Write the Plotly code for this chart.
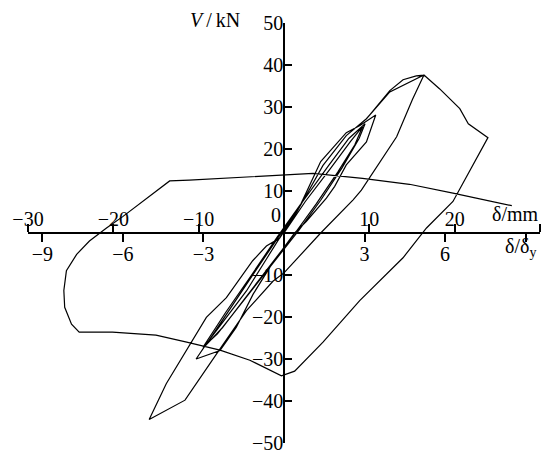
import plotly.graph_objects as go

# Displacement (mm) and shear force (kN) of the recorded loading history
# Cycle 1: small elastic cycle
cycle1_d = [0.0, 2.5, 5.5, 7.8, 9.2, 8.3, 6.3, 3.8, 1.3, -1.5, -4.5, -7.2, -9.2,
            -6.5, -3.5, -0.5]
cycle1_v = [0.0, 7.5, 15.5, 21.8, 25.3, 21.0, 14.5, 7.0, 0.0, -7.5, -15.5, -22.5, -26.8,
            -18.5, -9.5, -0.5]
# Cycle 2: repeat at the same level
cycle2_d = [2.2, 5.2, 7.6, 9.5, 8.8, 6.8, 4.3, 1.8, -2.0, -5.0, -7.8, -9.5,
            -6.8, -3.8, -0.8]
cycle2_v = [7.5, 16.0, 22.5, 26.0, 22.5, 15.5, 7.8, 0.8, -9.0, -17.0, -24.0, -27.2,
            -18.8, -10.0, -1.0]
# Cycle 3: medium amplitude
cycle3_d = [2.0, 4.3, 7.3, 8.9, 10.75, 9.66, 7.3, 5.94, 4.97, 2.63, 1.25, -1.3, -3.6,
            -5.6, -7.5, -10.3, -9.1, -6.75, -4.4, -2.0, 0.0]
cycle3_v = [7.0, 17.0, 23.9, 25.6, 28.1, 21.7, 16.2, 11.1, 8.3, 2.8, 0.0, -7.0, -14.5,
            -22.5, -28.0, -30.0, -26.4, -20.0, -13.8, -6.0, 0.5]
# Cycle 4: first excursion to peak load and first large negative excursion
cycle4_d = [1.5, 4.57, 7.3, 9.66, 12.4, 13.95, 15.5, 16.4, 15.05, 13.2, 9.07, 8.1,
            4.3, 0.0, -1.3, -4.4, -7.9, -11.6, -15.8]
cycle4_v = [5.0, 16.1, 23.2, 27.2, 33.9, 36.5, 37.4, 37.6, 31.8, 22.9, 10.2, 7.9,
            0.0, -9.5, -11.5, -18.5, -28.8, -39.8, -44.4]
# Cycle 5: reloading past peak, softening, and the final reversed branch
cycle5_d = [-13.8, -9.1, -6.75, -3.67, -2.06, -0.5, 1.5, 4.57, 7.3, 9.66, 12.4, 16.4,
            18.25, 20.6, 21.6, 23.9, 19.8, 16.7, 13.95, 8.87, 4.57, 1.25, -0.3,
            -4.0, -7.5, -11.4, -15.0, -20.1, -24.0, -24.9, -25.7, -25.8, -25.5,
            -24.3, -22.8, -20.8, -18.9, -13.4, -11.1, 1.8, 3.4, 9.2, 14.7, 19.8,
            25.3, 26.7]
cycle5_v = [-35.9, -20.1, -15.4, -6.6, -3.1, -1.2, 5.0, 16.1, 23.2, 27.2, 33.6, 37.6,
            34.3, 29.6, 26.0, 22.7, 7.5, 1.2, -5.9, -16.1, -26.0, -32.9, -34.0,
            -30.3, -27.9, -26.0, -24.3, -23.6, -23.6, -21.7, -17.7, -13.7, -9.0,
            -5.1, -1.9, 1.2, 3.9, 12.4, 12.6, 14.0, 14.2, 13.0, 11.6, 9.5,
            7.1, 6.5]

# Yield displacement used for the ductility scale (mm)
delta_y = 3.145

mm_ticks = [-30, -20, -10, 10, 20, 30]
mm_labels = ["−30", "−20", "−10", "10", "20", ""]
mu_ticks = [-9, -6, -3, 3, 6, 9]
mu_labels = ["−9", "−6", "−3", "3", "6", ""]
kn_ticks = [-50, -40, -30, -20, -10, 10, 20, 30, 40, 50]
kn_labels = ["−50", "−40", "−30", "−20", "−10", "10", "20", "30", "40", "50"]

disp = cycle1_d + cycle2_d + cycle3_d + cycle4_d + cycle5_d
force = cycle1_v + cycle2_v + cycle3_v + cycle4_v + cycle5_v

FONT = "Liberation Serif, Times New Roman, serif"
FS = 20

fig = go.Figure()
fig.add_trace(go.Scatter(x=disp, y=force, mode="lines",
                         line=dict(color="black", width=1.2),
                         showlegend=False, hoverinfo="skip"))
# invisible trace to activate the ductility axis
fig.add_trace(go.Scatter(x=[0], y=[0], xaxis="x2", mode="markers",
                         marker=dict(opacity=0), showlegend=False,
                         hoverinfo="skip"))

fig.update_layout(
    width=543, height=457,
    margin=dict(l=28, r=3, t=23, b=10),
    plot_bgcolor="white", paper_bgcolor="white",
    font=dict(family=FONT, size=FS, color="black"),
    xaxis=dict(range=[-30, 30], anchor="free", position=0.5, side="top",
               showline=True, linecolor="black", linewidth=1.5,
               ticks="outside", ticklen=8, tickwidth=1.5, tickcolor="black",
               tickvals=mm_ticks, ticktext=mm_labels, ticklabelstandoff=-10,
               ticklabeloverflow="allow",
               showgrid=False, zeroline=False, fixedrange=True),
    xaxis2=dict(range=[-30 / delta_y, 30 / delta_y], overlaying="x",
                anchor="free", position=0.5, side="bottom",
                showline=False, ticks="outside", ticklen=8, tickwidth=1.5,
                tickcolor="black", tickvals=mu_ticks, ticktext=mu_labels,
                ticklabelstandoff=-5, ticklabeloverflow="allow",
                showgrid=False, zeroline=False, fixedrange=True),
    yaxis=dict(range=[-50, 50], anchor="free", position=0.5, side="left",
               showline=True, linecolor="black", linewidth=1.5,
               ticks="inside", ticklen=7, tickwidth=1.5, tickcolor="black",
               tickvals=kn_ticks, ticktext=kn_labels, ticklabelstandoff=-4,
               ticklabeloverflow="allow",
               showgrid=False, zeroline=False, fixedrange=True),
)

ann_font = dict(family=FONT, size=FS, color="black")
fig.add_annotation(x=0.4838, y=0.543, xref="paper", yref="paper", text="0",
                   showarrow=False, font=ann_font)
fig.add_annotation(x=0.418, y=1.007, xref="paper", yref="paper",
                   text="<i>V</i>\u2009/\u2009kN", xanchor="right", yanchor="middle",
                   showarrow=False, font=ann_font)
fig.add_annotation(x=1.002, y=0.545, xref="paper", yref="paper", text="δ/mm",
                   xanchor="right", yanchor="middle", showarrow=False,
                   font=ann_font)
fig.add_annotation(x=0.961, y=0.465, xref="paper", yref="paper",
                   text="δ/δ<sub>y</sub>", xanchor="center", yanchor="middle",
                   showarrow=False, font=ann_font)

fig.write_html("out.html")
